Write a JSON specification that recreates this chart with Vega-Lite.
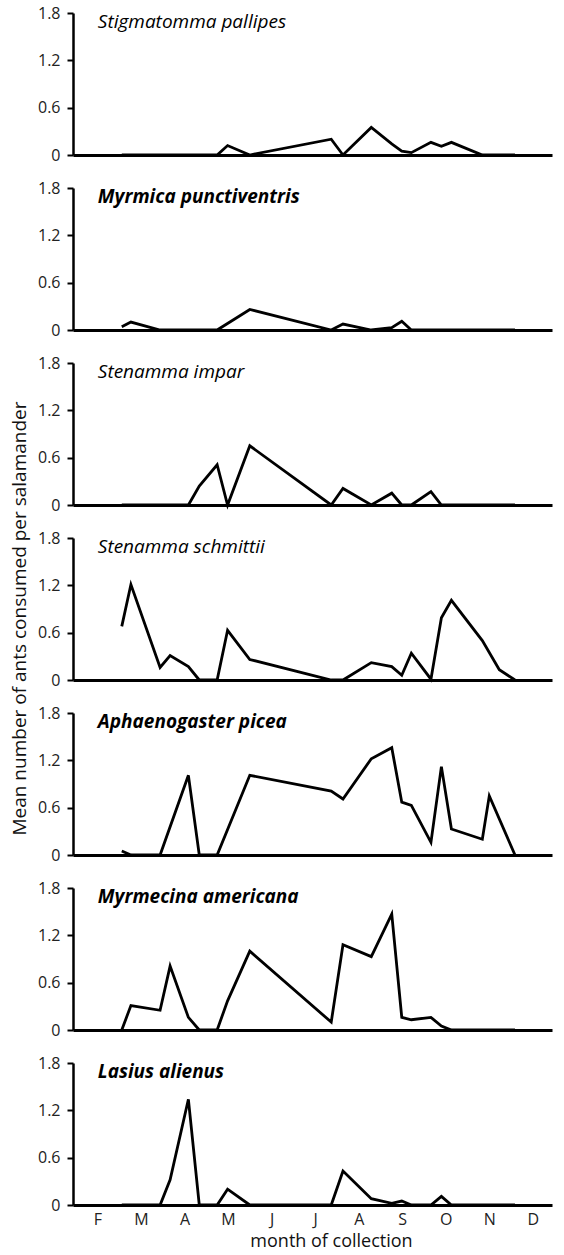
{
  "$schema": "https://vega.github.io/schema/vega-lite/v6.json",
  "background": "white",
  "padding": {"left": 10, "top": 5, "right": 5, "bottom": 5},
  "data": {
    "values": [
      {"species": "Stigmatomma pallipes", "month": 3.12, "value": 0},
      {"species": "Stigmatomma pallipes", "month": 5.31, "value": 0},
      {"species": "Stigmatomma pallipes", "month": 5.55, "value": 0.12},
      {"species": "Stigmatomma pallipes", "month": 6.06, "value": 0},
      {"species": "Stigmatomma pallipes", "month": 7.93, "value": 0.2},
      {"species": "Stigmatomma pallipes", "month": 8.2, "value": 0},
      {"species": "Stigmatomma pallipes", "month": 8.85, "value": 0.35},
      {"species": "Stigmatomma pallipes", "month": 9.32, "value": 0.14},
      {"species": "Stigmatomma pallipes", "month": 9.55, "value": 0.05},
      {"species": "Stigmatomma pallipes", "month": 9.77, "value": 0.03},
      {"species": "Stigmatomma pallipes", "month": 10.22, "value": 0.16},
      {"species": "Stigmatomma pallipes", "month": 10.46, "value": 0.11},
      {"species": "Stigmatomma pallipes", "month": 10.69, "value": 0.16},
      {"species": "Stigmatomma pallipes", "month": 11.4, "value": 0},
      {"species": "Stigmatomma pallipes", "month": 12.15, "value": 0},

      {"species": "Myrmica punctiventris", "month": 3.12, "value": 0.04},
      {"species": "Myrmica punctiventris", "month": 3.33, "value": 0.1},
      {"species": "Myrmica punctiventris", "month": 4.0, "value": 0},
      {"species": "Myrmica punctiventris", "month": 5.31, "value": 0},
      {"species": "Myrmica punctiventris", "month": 6.06, "value": 0.26},
      {"species": "Myrmica punctiventris", "month": 7.93, "value": 0},
      {"species": "Myrmica punctiventris", "month": 8.2, "value": 0.075},
      {"species": "Myrmica punctiventris", "month": 8.85, "value": 0},
      {"species": "Myrmica punctiventris", "month": 9.32, "value": 0.03},
      {"species": "Myrmica punctiventris", "month": 9.55, "value": 0.11},
      {"species": "Myrmica punctiventris", "month": 9.77, "value": 0},
      {"species": "Myrmica punctiventris", "month": 12.15, "value": 0},

      {"species": "Stenamma impar", "month": 3.12, "value": 0},
      {"species": "Stenamma impar", "month": 4.65, "value": 0},
      {"species": "Stenamma impar", "month": 4.9, "value": 0.24},
      {"species": "Stenamma impar", "month": 5.31, "value": 0.51},
      {"species": "Stenamma impar", "month": 5.55, "value": 0},
      {"species": "Stenamma impar", "month": 6.06, "value": 0.75},
      {"species": "Stenamma impar", "month": 7.93, "value": 0},
      {"species": "Stenamma impar", "month": 8.2, "value": 0.21},
      {"species": "Stenamma impar", "month": 8.85, "value": 0},
      {"species": "Stenamma impar", "month": 9.32, "value": 0.15},
      {"species": "Stenamma impar", "month": 9.55, "value": 0},
      {"species": "Stenamma impar", "month": 9.77, "value": 0},
      {"species": "Stenamma impar", "month": 10.22, "value": 0.17},
      {"species": "Stenamma impar", "month": 10.46, "value": 0},
      {"species": "Stenamma impar", "month": 12.15, "value": 0},

      {"species": "Stenamma schmittii", "month": 3.12, "value": 0.68},
      {"species": "Stenamma schmittii", "month": 3.33, "value": 1.21},
      {"species": "Stenamma schmittii", "month": 4.0, "value": 0.16},
      {"species": "Stenamma schmittii", "month": 4.23, "value": 0.31},
      {"species": "Stenamma schmittii", "month": 4.65, "value": 0.17},
      {"species": "Stenamma schmittii", "month": 4.9, "value": 0},
      {"species": "Stenamma schmittii", "month": 5.31, "value": 0},
      {"species": "Stenamma schmittii", "month": 5.55, "value": 0.63},
      {"species": "Stenamma schmittii", "month": 6.06, "value": 0.26},
      {"species": "Stenamma schmittii", "month": 7.93, "value": 0},
      {"species": "Stenamma schmittii", "month": 8.2, "value": 0},
      {"species": "Stenamma schmittii", "month": 8.85, "value": 0.22},
      {"species": "Stenamma schmittii", "month": 9.32, "value": 0.17},
      {"species": "Stenamma schmittii", "month": 9.55, "value": 0.06},
      {"species": "Stenamma schmittii", "month": 9.77, "value": 0.34},
      {"species": "Stenamma schmittii", "month": 10.22, "value": 0.01},
      {"species": "Stenamma schmittii", "month": 10.46, "value": 0.79},
      {"species": "Stenamma schmittii", "month": 10.69, "value": 1.01},
      {"species": "Stenamma schmittii", "month": 11.4, "value": 0.5},
      {"species": "Stenamma schmittii", "month": 11.79, "value": 0.13},
      {"species": "Stenamma schmittii", "month": 12.15, "value": 0},

      {"species": "Aphaenogaster picea", "month": 3.12, "value": 0.05},
      {"species": "Aphaenogaster picea", "month": 3.33, "value": 0},
      {"species": "Aphaenogaster picea", "month": 4.0, "value": 0},
      {"species": "Aphaenogaster picea", "month": 4.65, "value": 1.01},
      {"species": "Aphaenogaster picea", "month": 4.9, "value": 0},
      {"species": "Aphaenogaster picea", "month": 5.31, "value": 0},
      {"species": "Aphaenogaster picea", "month": 6.06, "value": 1.01},
      {"species": "Aphaenogaster picea", "month": 7.93, "value": 0.81},
      {"species": "Aphaenogaster picea", "month": 8.2, "value": 0.71},
      {"species": "Aphaenogaster picea", "month": 8.85, "value": 1.22},
      {"species": "Aphaenogaster picea", "month": 9.32, "value": 1.36},
      {"species": "Aphaenogaster picea", "month": 9.55, "value": 0.67},
      {"species": "Aphaenogaster picea", "month": 9.77, "value": 0.63},
      {"species": "Aphaenogaster picea", "month": 10.22, "value": 0.16},
      {"species": "Aphaenogaster picea", "month": 10.46, "value": 1.12},
      {"species": "Aphaenogaster picea", "month": 10.69, "value": 0.33},
      {"species": "Aphaenogaster picea", "month": 11.4, "value": 0.2},
      {"species": "Aphaenogaster picea", "month": 11.56, "value": 0.75},
      {"species": "Aphaenogaster picea", "month": 12.15, "value": 0},

      {"species": "Myrmecina americana", "month": 3.12, "value": 0},
      {"species": "Myrmecina americana", "month": 3.33, "value": 0.31},
      {"species": "Myrmecina americana", "month": 4.0, "value": 0.25},
      {"species": "Myrmecina americana", "month": 4.23, "value": 0.81},
      {"species": "Myrmecina americana", "month": 4.65, "value": 0.16},
      {"species": "Myrmecina americana", "month": 4.9, "value": 0},
      {"species": "Myrmecina americana", "month": 5.31, "value": 0},
      {"species": "Myrmecina americana", "month": 5.55, "value": 0.37},
      {"species": "Myrmecina americana", "month": 6.06, "value": 1.0},
      {"species": "Myrmecina americana", "month": 7.93, "value": 0.1},
      {"species": "Myrmecina americana", "month": 8.2, "value": 1.08},
      {"species": "Myrmecina americana", "month": 8.85, "value": 0.93},
      {"species": "Myrmecina americana", "month": 9.32, "value": 1.47},
      {"species": "Myrmecina americana", "month": 9.55, "value": 0.16},
      {"species": "Myrmecina americana", "month": 9.77, "value": 0.13},
      {"species": "Myrmecina americana", "month": 10.22, "value": 0.16},
      {"species": "Myrmecina americana", "month": 10.46, "value": 0.05},
      {"species": "Myrmecina americana", "month": 10.69, "value": 0},
      {"species": "Myrmecina americana", "month": 12.15, "value": 0},

      {"species": "Lasius alienus", "month": 3.12, "value": 0},
      {"species": "Lasius alienus", "month": 4.0, "value": 0},
      {"species": "Lasius alienus", "month": 4.23, "value": 0.32},
      {"species": "Lasius alienus", "month": 4.65, "value": 1.34},
      {"species": "Lasius alienus", "month": 4.9, "value": 0},
      {"species": "Lasius alienus", "month": 5.31, "value": 0},
      {"species": "Lasius alienus", "month": 5.55, "value": 0.2},
      {"species": "Lasius alienus", "month": 6.06, "value": 0},
      {"species": "Lasius alienus", "month": 7.93, "value": 0},
      {"species": "Lasius alienus", "month": 8.2, "value": 0.43},
      {"species": "Lasius alienus", "month": 8.85, "value": 0.08},
      {"species": "Lasius alienus", "month": 9.32, "value": 0.02},
      {"species": "Lasius alienus", "month": 9.55, "value": 0.05},
      {"species": "Lasius alienus", "month": 9.77, "value": 0},
      {"species": "Lasius alienus", "month": 10.22, "value": 0},
      {"species": "Lasius alienus", "month": 10.46, "value": 0.11},
      {"species": "Lasius alienus", "month": 10.69, "value": 0},
      {"species": "Lasius alienus", "month": 12.15, "value": 0}
    ]
  },
  "spacing": 33,
  "bounds": "flush",
  "vconcat": [
    {
      "width": 479, "height": 142,
      "transform": [{"filter": {"field": "species", "equal": "Stigmatomma pallipes"}}],
      "layer": [
        {"mark": {"type": "line", "color": "black", "strokeWidth": 2.8},
         "encoding": {
           "x": {"field": "month", "type": "quantitative", "scale": {"domain": [2, 12.42]}, "axis": {"labels": false, "ticks": false, "title": null}},
           "y": {"field": "value", "type": "quantitative", "scale": {"domain": [0, 1.8]}, "axis": {"title": null, "values": [0, 0.6, 1.2, 1.8], "labelExpr": "datum.value == 0 ? '0' : format(datum.value, '.1f')"}}}},
        {"transform": [{"aggregate": [{"op": "count", "as": "n"}], "groupby": ["species"]}],
         "mark": {"type": "text", "align": "left", "baseline": "alphabetic", "fontStyle": "italic", "fontSize": 19, "fontWeight": "normal", "color": "black"},
         "encoding": {"x": {"datum": 2.57}, "y": {"datum": 1.61}, "text": {"field": "species"}}}
      ]
    },
    {
      "width": 479, "height": 142,
      "transform": [{"filter": {"field": "species", "equal": "Myrmica punctiventris"}}],
      "layer": [
        {"mark": {"type": "line", "color": "black", "strokeWidth": 2.8},
         "encoding": {
           "x": {"field": "month", "type": "quantitative", "scale": {"domain": [2, 12.42]}, "axis": {"labels": false, "ticks": false, "title": null}},
           "y": {"field": "value", "type": "quantitative", "scale": {"domain": [0, 1.8]}, "axis": {"title": null, "values": [0, 0.6, 1.2, 1.8], "labelExpr": "datum.value == 0 ? '0' : format(datum.value, '.1f')"}}}},
        {"transform": [{"aggregate": [{"op": "count", "as": "n"}], "groupby": ["species"]}],
         "mark": {"type": "text", "align": "left", "baseline": "alphabetic", "fontStyle": "italic", "fontSize": 19, "fontWeight": "bold", "color": "black"},
         "encoding": {"x": {"datum": 2.57}, "y": {"datum": 1.61}, "text": {"field": "species"}}}
      ]
    },
    {
      "width": 479, "height": 142,
      "transform": [{"filter": {"field": "species", "equal": "Stenamma impar"}}],
      "layer": [
        {"mark": {"type": "line", "color": "black", "strokeWidth": 2.8},
         "encoding": {
           "x": {"field": "month", "type": "quantitative", "scale": {"domain": [2, 12.42]}, "axis": {"labels": false, "ticks": false, "title": null}},
           "y": {"field": "value", "type": "quantitative", "scale": {"domain": [0, 1.8]}, "axis": {"title": null, "values": [0, 0.6, 1.2, 1.8], "labelExpr": "datum.value == 0 ? '0' : format(datum.value, '.1f')"}}}},
        {"transform": [{"aggregate": [{"op": "count", "as": "n"}], "groupby": ["species"]}],
         "mark": {"type": "text", "align": "left", "baseline": "alphabetic", "fontStyle": "italic", "fontSize": 19, "fontWeight": "normal", "color": "black"},
         "encoding": {"x": {"datum": 2.57}, "y": {"datum": 1.61}, "text": {"field": "species"}}}
      ]
    },
    {
      "width": 479, "height": 142,
      "transform": [{"filter": {"field": "species", "equal": "Stenamma schmittii"}}],
      "layer": [
        {"mark": {"type": "line", "color": "black", "strokeWidth": 2.8},
         "encoding": {
           "x": {"field": "month", "type": "quantitative", "scale": {"domain": [2, 12.42]}, "axis": {"labels": false, "ticks": false, "title": null}},
           "y": {"field": "value", "type": "quantitative", "scale": {"domain": [0, 1.8]}, "axis": {"values": [0, 0.6, 1.2, 1.8], "labelExpr": "datum.value == 0 ? '0' : format(datum.value, '.1f')", "title": "Mean number of ants consumed per salamander", "titleFontSize": 19, "titleFontWeight": "normal", "titleY": 80, "titlePadding": 8, "titleColor": "#111"}}}},
        {"transform": [{"aggregate": [{"op": "count", "as": "n"}], "groupby": ["species"]}],
         "mark": {"type": "text", "align": "left", "baseline": "alphabetic", "fontStyle": "italic", "fontSize": 19, "fontWeight": "normal", "color": "black"},
         "encoding": {"x": {"datum": 2.57}, "y": {"datum": 1.61}, "text": {"field": "species"}}}
      ]
    },
    {
      "width": 479, "height": 142,
      "transform": [{"filter": {"field": "species", "equal": "Aphaenogaster picea"}}],
      "layer": [
        {"mark": {"type": "line", "color": "black", "strokeWidth": 2.8},
         "encoding": {
           "x": {"field": "month", "type": "quantitative", "scale": {"domain": [2, 12.42]}, "axis": {"labels": false, "ticks": false, "title": null}},
           "y": {"field": "value", "type": "quantitative", "scale": {"domain": [0, 1.8]}, "axis": {"title": null, "values": [0, 0.6, 1.2, 1.8], "labelExpr": "datum.value == 0 ? '0' : format(datum.value, '.1f')"}}}},
        {"transform": [{"aggregate": [{"op": "count", "as": "n"}], "groupby": ["species"]}],
         "mark": {"type": "text", "align": "left", "baseline": "alphabetic", "fontStyle": "italic", "fontSize": 19, "fontWeight": "bold", "color": "black"},
         "encoding": {"x": {"datum": 2.57}, "y": {"datum": 1.61}, "text": {"field": "species"}}}
      ]
    },
    {
      "width": 479, "height": 142,
      "transform": [{"filter": {"field": "species", "equal": "Myrmecina americana"}}],
      "layer": [
        {"mark": {"type": "line", "color": "black", "strokeWidth": 2.8},
         "encoding": {
           "x": {"field": "month", "type": "quantitative", "scale": {"domain": [2, 12.42]}, "axis": {"labels": false, "ticks": false, "title": null}},
           "y": {"field": "value", "type": "quantitative", "scale": {"domain": [0, 1.8]}, "axis": {"title": null, "values": [0, 0.6, 1.2, 1.8], "labelExpr": "datum.value == 0 ? '0' : format(datum.value, '.1f')"}}}},
        {"transform": [{"aggregate": [{"op": "count", "as": "n"}], "groupby": ["species"]}],
         "mark": {"type": "text", "align": "left", "baseline": "alphabetic", "fontStyle": "italic", "fontSize": 19, "fontWeight": "bold", "color": "black"},
         "encoding": {"x": {"datum": 2.57}, "y": {"datum": 1.61}, "text": {"field": "species"}}}
      ]
    },
    {
      "width": 479, "height": 142,
      "transform": [{"filter": {"field": "species", "equal": "Lasius alienus"}}],
      "layer": [
        {"mark": {"type": "line", "color": "black", "strokeWidth": 2.8},
         "encoding": {
           "x": {"field": "month", "type": "quantitative", "scale": {"domain": [2, 12.42]},
                 "axis": {"values": [2.4, 3.4, 4.4, 5.4, 6.4, 7.4, 8.4, 9.4, 10.4, 11.4, 12.4],
                          "labelExpr": "['J','F','M','A','M','J','J','A','S','O','N','D'][floor(datum.value) - 1]",
                          "labelOffset": 7, "ticks": false, "labelPadding": 6, "labelFontSize": 16,
                          "title": "month of collection", "titleFontSize": 18, "titleFontWeight": "normal",
                          "titlePadding": 5, "titleX": 258, "titleColor": "#111"}},
           "y": {"field": "value", "type": "quantitative", "scale": {"domain": [0, 1.8]}, "axis": {"title": null, "values": [0, 0.6, 1.2, 1.8], "labelExpr": "datum.value == 0 ? '0' : format(datum.value, '.1f')"}}}},
        {"transform": [{"aggregate": [{"op": "count", "as": "n"}], "groupby": ["species"]}],
         "mark": {"type": "text", "align": "left", "baseline": "alphabetic", "fontStyle": "italic", "fontSize": 19, "fontWeight": "bold", "color": "black"},
         "encoding": {"x": {"datum": 2.57}, "y": {"datum": 1.61}, "text": {"field": "species"}}}
      ]
    }
  ],
  "config": {
    "font": "Open Sans",
    "view": {"stroke": null},
    "axis": {"grid": false, "labelFlush": false, "domainColor": "black", "labelColor": "#222"},
    "axisX": {"domainWidth": 3},
    "axisY": {"domainWidth": 2.5, "tickColor": "black", "tickWidth": 2, "tickSize": 6, "labelPadding": 7, "labelFontSize": 16}
  }
}
